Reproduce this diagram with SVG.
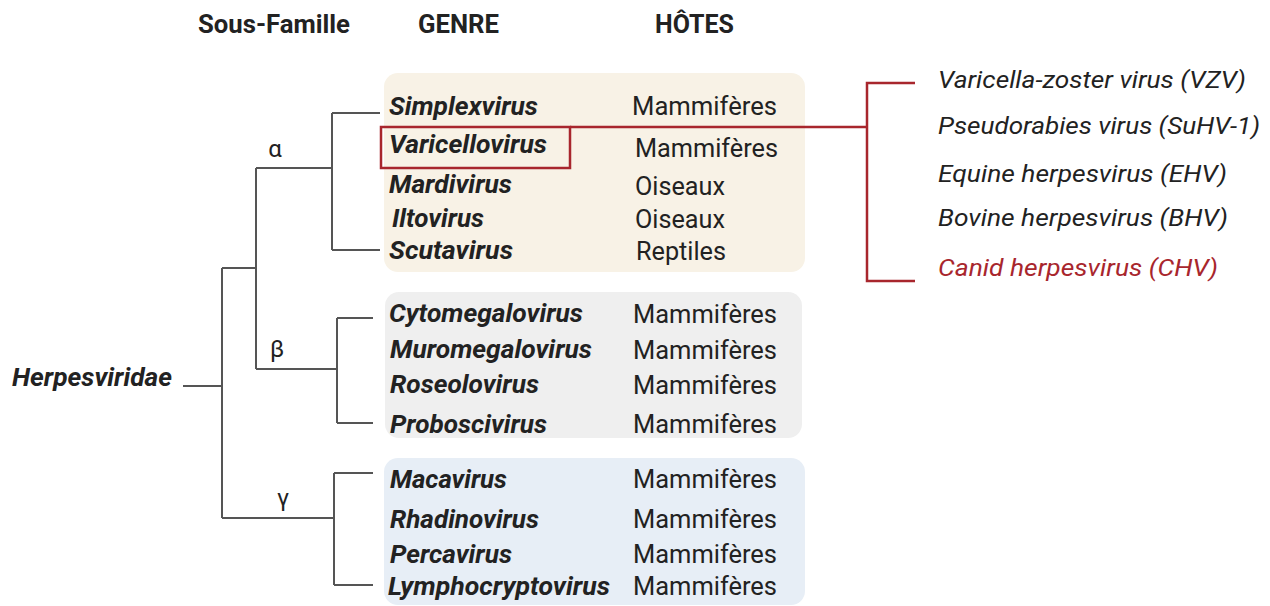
<svg xmlns="http://www.w3.org/2000/svg" width="1270" height="606" viewBox="0 0 1270 606">
<style>
text{font-family:Roboto,"Liberation Sans",sans-serif;fill:#222}
.hd{font-size:26px;font-weight:bold}
.gn{font-size:25px;font-weight:bold;font-style:italic}
.ht{font-size:25px}
.sp{font-size:24.5px;font-style:italic}
.gr{font-size:24px;text-anchor:middle}
.tree{fill:none;stroke:#555;stroke-width:2}
.red{fill:none;stroke:#a8262d;stroke-width:2.5}
</style>
<rect width="1270" height="606" fill="#fff"/>
<g id="headers">
<text class="hd" x="198" y="33" textLength="152" lengthAdjust="spacingAndGlyphs">Sous-Famille</text>
<text class="hd" x="418" y="33" textLength="81" lengthAdjust="spacingAndGlyphs">GENRE</text>
<text class="hd" x="655" y="33" textLength="79" lengthAdjust="spacingAndGlyphs">HÔTES</text>
</g>
<g id="alpha-box">
<rect x="384" y="73" width="421" height="199" rx="14" fill="#f8f2e6"/>
</g>
<g id="beta-box">
<rect x="385" y="292" width="417" height="146" rx="14" fill="#efefef"/>
</g>
<g id="gamma-box">
<rect x="384" y="458" width="421" height="147" rx="14" fill="#e7eef6"/>
</g>
<g id="connectors">
<path class="tree" d="M183,386H222M222,268V518M222,268H256M222,518H334M256,168V369M256,168H332M256,369H337M332,113V250M332,113H380M332,250H380M337,318V423M337,318H373M337,423H373M334,473V585M334,473H373M334,585H373"/>
<path class="red" d="M570,127H867M915,83H867V281H915"/>
</g>
<g id="root">
<text class="gn" x="12" y="386" style="font-size:26px" textLength="160" lengthAdjust="spacingAndGlyphs">Herpesviridae</text>
</g>
<g id="subfamilies">
<text class="gr" x="275" y="157">α</text>
<text class="gr" x="277" y="357">β</text>
<text class="gr" x="283" y="506">γ</text>
</g>
<g id="alpha-genera">
<text class="gn" x="389" y="115" textLength="149" lengthAdjust="spacingAndGlyphs">Simplexvirus</text>
<rect x="381" y="127" width="189" height="41" class="red"/>
<text class="gn" x="389" y="153" textLength="158" lengthAdjust="spacingAndGlyphs">Varicellovirus</text>
<text class="gn" x="389" y="193" textLength="123" lengthAdjust="spacingAndGlyphs">Mardivirus</text>
<text class="gn" x="392" y="227" textLength="92" lengthAdjust="spacingAndGlyphs">Iltovirus</text>
<text class="gn" x="389" y="259" textLength="124" lengthAdjust="spacingAndGlyphs">Scutavirus</text>
<text class="ht" x="632" y="115" textLength="145" lengthAdjust="spacingAndGlyphs">Mammifères</text>
<text class="ht" x="635" y="157" textLength="143" lengthAdjust="spacingAndGlyphs">Mammifères</text>
<text class="ht" x="635" y="195" textLength="90" lengthAdjust="spacingAndGlyphs">Oiseaux</text>
<text class="ht" x="635" y="228" textLength="90" lengthAdjust="spacingAndGlyphs">Oiseaux</text>
<text class="ht" x="636" y="260" textLength="90" lengthAdjust="spacingAndGlyphs">Reptiles</text>
</g>
<g id="beta-genera">
<text class="gn" x="389" y="322" textLength="194" lengthAdjust="spacingAndGlyphs">Cytomegalovirus</text>
<text class="gn" x="390" y="358" textLength="202" lengthAdjust="spacingAndGlyphs">Muromegalovirus</text>
<text class="gn" x="390" y="393" textLength="149" lengthAdjust="spacingAndGlyphs">Roseolovirus</text>
<text class="gn" x="390" y="433" textLength="157" lengthAdjust="spacingAndGlyphs">Proboscivirus</text>
<text class="ht" x="633" y="323" textLength="144" lengthAdjust="spacingAndGlyphs">Mammifères</text>
<text class="ht" x="633" y="359" textLength="144" lengthAdjust="spacingAndGlyphs">Mammifères</text>
<text class="ht" x="633" y="394" textLength="144" lengthAdjust="spacingAndGlyphs">Mammifères</text>
<text class="ht" x="633" y="433" textLength="144" lengthAdjust="spacingAndGlyphs">Mammifères</text>
</g>
<g id="gamma-genera">
<text class="gn" x="390" y="488" textLength="117" lengthAdjust="spacingAndGlyphs">Macavirus</text>
<text class="gn" x="390" y="528" textLength="149" lengthAdjust="spacingAndGlyphs">Rhadinovirus</text>
<text class="gn" x="390" y="563" textLength="122" lengthAdjust="spacingAndGlyphs">Percavirus</text>
<text class="gn" x="388" y="595" textLength="222" lengthAdjust="spacingAndGlyphs">Lymphocryptovirus</text>
<text class="ht" x="633" y="488" textLength="144" lengthAdjust="spacingAndGlyphs">Mammifères</text>
<text class="ht" x="633" y="528" textLength="144" lengthAdjust="spacingAndGlyphs">Mammifères</text>
<text class="ht" x="633" y="563" textLength="144" lengthAdjust="spacingAndGlyphs">Mammifères</text>
<text class="ht" x="633" y="595" textLength="144" lengthAdjust="spacingAndGlyphs">Mammifères</text>
</g>
<g id="varicellovirus-species">
<text class="sp" x="938" y="88" textLength="308" lengthAdjust="spacingAndGlyphs">Varicella-zoster virus (VZV)</text>
<text class="sp" x="938" y="134" textLength="322" lengthAdjust="spacingAndGlyphs">Pseudorabies virus (SuHV-1)</text>
<text class="sp" x="938" y="182" textLength="289" lengthAdjust="spacingAndGlyphs">Equine herpesvirus (EHV)</text>
<text class="sp" x="938" y="226" textLength="290" lengthAdjust="spacingAndGlyphs">Bovine herpesvirus (BHV)</text>
<text class="sp" x="938" y="276" textLength="280" lengthAdjust="spacingAndGlyphs" style="fill:#a8262d">Canid herpesvirus (CHV)</text>
</g>
</svg>
